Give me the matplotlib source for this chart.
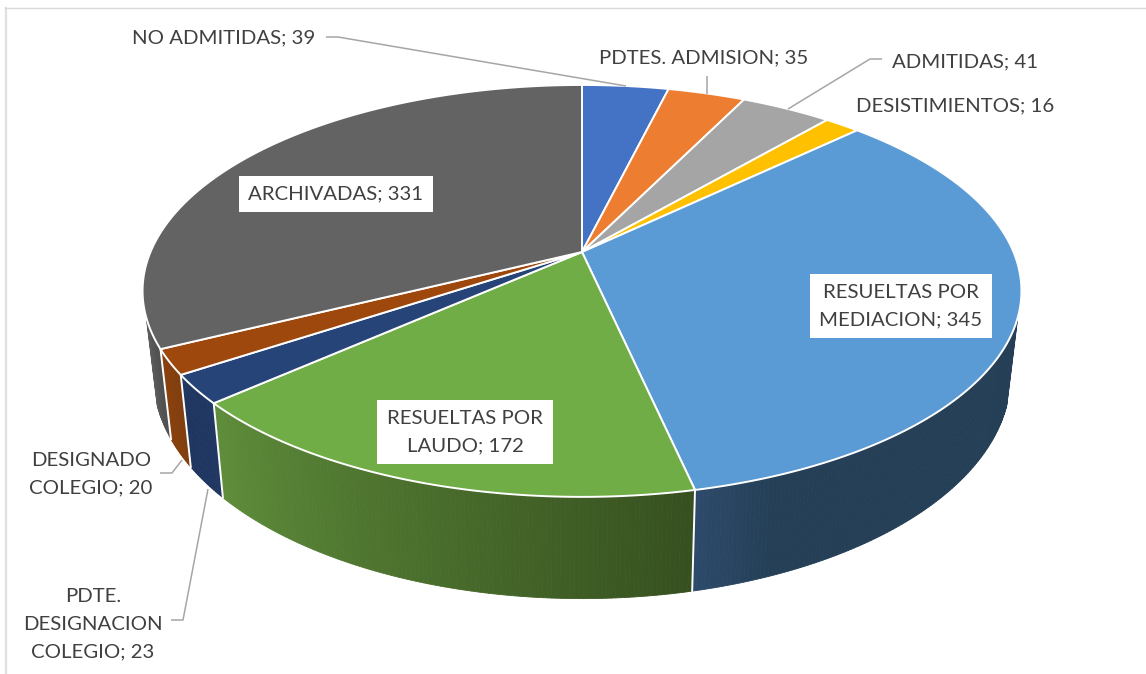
import numpy as np
import matplotlib
matplotlib.use("Agg")
import matplotlib.pyplot as plt
from matplotlib.colors import to_rgb
from matplotlib.patches import Polygon

categories = ["NO ADMITIDAS", "PDTES. ADMISION", "ADMITIDAS", "DESISTIMIENTOS",
              "RESUELTAS POR\nMEDIACION", "RESUELTAS POR\nLAUDO",
              "PDTE.\nDESIGNACION\nCOLEGIO", "DESIGNADO\nCOLEGIO", "ARCHIVADAS"]
values = [39, 35, 41, 16, 345, 172, 23, 20, 331]
top_colors = ["#4472C4", "#ED7D31", "#A5A5A5", "#FFC000", "#5B9BD5",
              "#70AD47", "#264478", "#9E480E", "#636363"]
# side wall colours, start and end of the gradient (clockwise, so right to left at the front)
wall_colors = [("#3a62a8", "#3a62a8"), ("#c8662a", "#c8662a"), ("#888888", "#888888"),
               ("#c89600", "#c89600"), ("#243f56", "#2d4a6b"), ("#36501f", "#5e8d3a"),
               ("#203763", "#1e3560"), ("#7f3c0d", "#8a410d"), ("#4e4e4e", "#5c5c5c")]
label_pos = [(224, 38), (704, 58), (965, 62), (955, 106), (901, 306),
             (465, 432), (93, 624), (91, 474), (336, 194)]
boxed = [False, False, False, False, True, True, False, False, True]
leaders = [[(326, 37), (338, 37), (626, 86)],
           [(707, 76), (707, 94)],
           [(882, 59), (870, 59), (788, 109)],
           [(171, 620), (183, 620), (208, 489)],
           [(160, 473), (172, 473), (182, 460)]]

CX, CY = 582, 252
A, B, K = 431.5, 198.6, 0.189


def top_xy(theta):
    # clock angle in degrees, perspective seen from above
    t = np.radians(theta)
    d = 1 + K * np.cos(t)
    return np.column_stack([CX + A * np.sin(t) / d, CY - B * np.cos(t) / d])


def bottom_xy(theta):
    p = top_xy(theta)
    d = 1 + K * np.cos(np.radians(theta))
    return np.column_stack([CX + (p[:, 0] - CX) * 0.975, p[:, 1] + 82.5 / d])


fig = plt.figure(figsize=(11.46, 6.74), dpi=100)
ax = fig.add_axes([0, 0, 1, 1])
ax.set_xlim(0, 1146)
ax.set_ylim(674, 0)
ax.axis("off")

# chart area border
ax.plot([6, 6], [674, 8], color="#e0e0e0", lw=1.6, zorder=1)
ax.plot([5, 1146], [8, 8], color="#d9d9d9", lw=1.0, zorder=1)

edges = np.concatenate([[0], np.cumsum(values)]) / sum(values) * 360

# side walls, only the front part is visible
for i in range(len(values)):
    lo, hi = max(edges[i], 108), min(edges[i + 1], 252)
    if lo >= hi:
        continue
    steps = np.linspace(lo, hi, max(int(hi - lo) * 2, 2) + 1)
    c0, c1 = np.array(to_rgb(wall_colors[i][0])), np.array(to_rgb(wall_colors[i][1]))
    top = top_xy(steps)
    bot = bottom_xy(steps)
    for j in range(len(steps) - 1):
        f = j / max(len(steps) - 2, 1)
        # blue wall stays flat, only lightens close to the green one
        if i == 4:
            f = max(0, (f - 0.85) / 0.15)
        col = c0 + (c1 - c0) * f
        quad = [top[j], top[j + 1], bot[j + 1], bot[j]]
        ax.add_patch(Polygon(quad, closed=True, fc=col, ec=col, lw=0.6, zorder=2))
    if edges[i] >= 108:
        a, b = top_xy(np.array([lo])), bottom_xy(np.array([lo]))
        ax.plot([a[0, 0], b[0, 0]], [a[0, 1], b[0, 1]], color="white", lw=1.4, zorder=3)

# top face
for i in range(len(values)):
    steps = np.linspace(edges[i], edges[i + 1], max(int(edges[i + 1] - edges[i]) * 2, 2) + 1)
    rim = top_xy(steps)
    pts = np.vstack([[CX, CY], rim])
    ax.add_patch(Polygon(pts, closed=True, fc=top_colors[i], ec="white", lw=1.4,
                         joinstyle="round", zorder=4))

for line in leaders:
    xs, ys = zip(*line)
    ax.plot(xs, ys, color="#a6a6a6", lw=1.1, zorder=5, solid_capstyle="butt")

for name, val, (x, y), box in zip(categories, values, label_pos, boxed):
    bbox = dict(fc="white", ec="none", pad=7) if box else None
    ax.text(x, y, f"{name}; {val}", ha="center", va="center", family="Lato",
            fontsize=14.7, color="#404040", linespacing=1.78, bbox=bbox, zorder=6)

fig.savefig("out.png", dpi=100)
